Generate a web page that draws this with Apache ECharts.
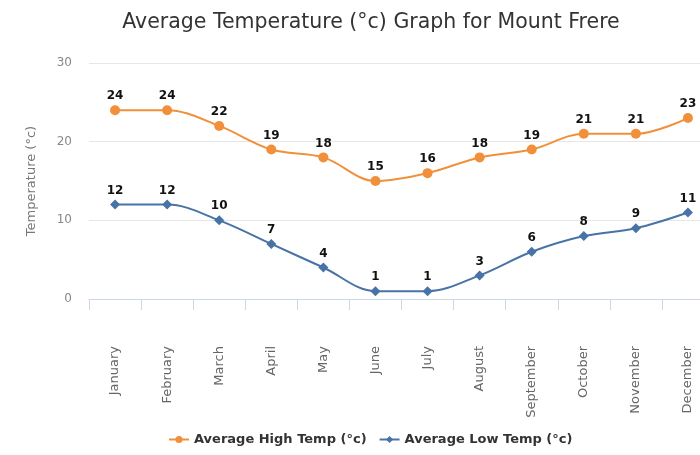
<!DOCTYPE html>
<html>
<head>
<meta charset="utf-8">
<script src="https://cdn.jsdelivr.net/npm/echarts@6/dist/echarts.min.js"></script>
<style>html,body{margin:0;padding:0;background:#fff;}#c{width:700px;height:455px;}</style>
</head>
<body>
<div id="c"></div>
<script>
const months = ['January','February','March','April','May','June','July','August','September','October','November','December'];
const highTemps = [24,24,22,19,18,15,16,18,19,21,21,23];
const lowTemps = [12,12,10,7,4,1,1,3,6,8,9,11];
const yTicks = [0,10,20,30];

const chart = echarts.init(document.getElementById('c'));
chart.setOption({
  animation: false,
  title: {
    text: 'Average Temperature (°c) Graph for Mount Frere',
    left: 366, top: 7, textAlign: 'center',
    textStyle: { fontFamily: 'DejaVu Sans', fontSize: 20.5, fontWeight: 'normal', color: '#333' }
  },
  grid: { left: 89, width: 625, top: 63, bottom: 156, containLabel: false, outerBoundsMode: 'none' },
  legend: {
    bottom: 4, left: 163,
    itemWidth: 20, itemHeight: 9, itemGap: 12,
    textStyle: { fontFamily: 'DejaVu Sans', fontSize: 13, fontWeight: 'bold', color: '#333' },
    data: ['Average High Temp (°c)', 'Average Low Temp (°c)']
  },
  xAxis: {
    type: 'category', data: months, boundaryGap: true,
    axisLine: { lineStyle: { color: '#ccd6eb', width: 1 } },
    axisTick: { show: true, length: 11, lineStyle: { color: '#ccd6eb' } },
    axisLabel: { rotate: 90, margin: 47, color: '#666', fontFamily: 'DejaVu Sans', fontSize: 13, interval: 0 }
  },
  yAxis: {
    type: 'value', min: yTicks[0], max: yTicks[yTicks.length-1], interval: 10,
    name: 'Temperature (°c)', nameLocation: 'middle', nameGap: 51,
    nameTextStyle: { color: '#777', fontFamily: 'DejaVu Sans', fontSize: 13 },
    axisLine: { show: false }, axisTick: { show: false },
    axisLabel: { color: '#888', fontFamily: 'DejaVu Sans', fontSize: 12, margin: 17 },
    splitLine: { lineStyle: { color: '#e6e6e6' } }
  },
  series: [
    {
      name: 'Average High Temp (°c)', type: 'line', data: highTemps, smooth: 0.35,
      symbol: 'circle', symbolSize: 10,
      itemStyle: { color: '#f0903a' }, lineStyle: { width: 2, color: '#f0903a' },
      label: { show: true, position: 'top', distance: 3, color: '#111', fontWeight: 'bold', fontFamily: 'DejaVu Sans', fontSize: 12 }
    },
    {
      name: 'Average Low Temp (°c)', type: 'line', data: lowTemps, smooth: 0.35,
      symbol: 'diamond', symbolSize: 10,
      itemStyle: { color: '#4873a6' }, lineStyle: { width: 2, color: '#4873a6' },
      label: { show: true, position: 'top', distance: 3, color: '#111', fontWeight: 'bold', fontFamily: 'DejaVu Sans', fontSize: 12 }
    }
  ]
});
</script>
</body>
</html>
